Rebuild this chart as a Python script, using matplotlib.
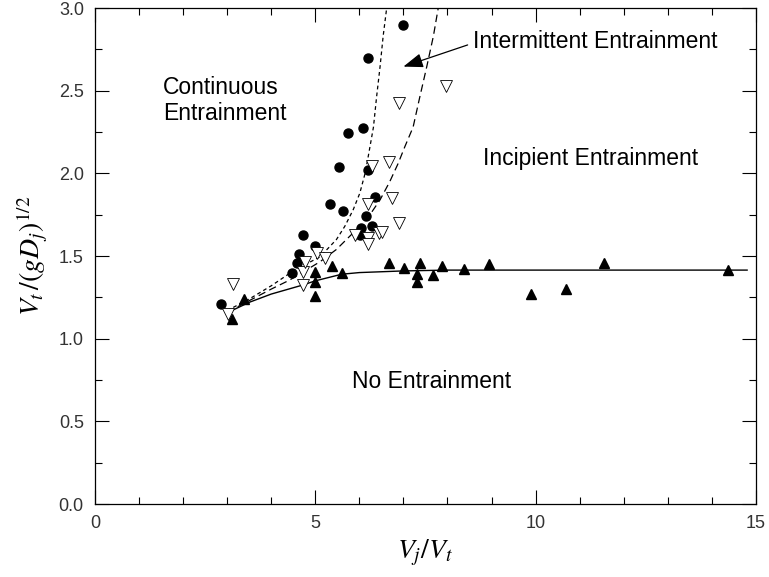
import numpy as np
import matplotlib.pyplot as plt
from matplotlib.ticker import MultipleLocator

plt.rcParams["font.family"] = ["Liberation Sans", "DejaVu Sans"]
plt.rcParams["mathtext.fontset"] = "stix"

# Continuous entrainment (filled circles)
cont_x = [2.87, 4.47, 4.58, 4.63, 4.73, 4.99, 5.34, 5.54, 5.63, 5.74, 6.01, 6.04,
          6.08, 6.15, 6.19, 6.20, 6.29, 6.35, 7.00]
cont_y = [1.21, 1.40, 1.46, 1.51, 1.63, 1.563, 1.813, 2.04, 1.77, 2.244, 1.627, 1.67,
          2.275, 1.74, 2.02, 2.70, 1.68, 1.86, 2.896]

# Incipient entrainment (open down-triangles)
incip_x = [3.03, 3.14, 4.73, 4.73, 4.77, 5.03, 5.23, 5.91, 6.19, 6.19, 6.19, 6.29,
           6.45, 6.52, 6.68, 6.74, 6.90, 6.90, 7.96]
incip_y = [1.15, 1.33, 1.325, 1.405, 1.466, 1.52, 1.49, 1.627, 1.61, 1.575, 1.815, 2.047,
           1.64, 1.645, 2.067, 1.85, 1.70, 2.424, 2.53]

# No entrainment (filled up-triangles)
none_x = [3.12, 3.39, 4.99, 4.99, 4.99, 5.39, 5.61, 6.68, 7.01, 7.30, 7.30, 7.37,
          7.68, 7.88, 8.38, 8.94, 9.89, 10.69, 11.56, 14.37]
none_y = [1.12, 1.24, 1.405, 1.34, 1.26, 1.44, 1.395, 1.456, 1.43, 1.39, 1.345, 1.456,
          1.385, 1.44, 1.42, 1.45, 1.27, 1.30, 1.456, 1.416]

# Boundary curves
cont_bound_x = [3.0, 3.5, 4.0, 4.5, 5.11, 5.48, 5.67, 5.86, 6.01, 6.13, 6.20, 6.32,
                6.39, 6.47, 6.54, 6.62]
cont_bound_y = [1.17, 1.24, 1.32, 1.41, 1.496, 1.60, 1.68, 1.78, 1.88, 2.0, 2.10, 2.28,
                2.46, 2.646, 2.83, 3.0]

incip_bound_x = [3.0, 3.5, 4.0, 4.42, 5.11, 5.48, 6.01, 6.24, 6.47, 6.69, 6.88, 7.03,
                 7.22, 7.37, 7.53, 7.68, 7.79]
incip_bound_y = [1.16, 1.23, 1.30, 1.355, 1.466, 1.54, 1.68, 1.75, 1.84, 1.95, 2.06, 2.16,
                 2.28, 2.46, 2.646, 2.83, 3.0]

none_bound_x = [3.05, 3.5, 4.0, 4.72, 5.0, 5.6, 6.0, 7.0, 8.0, 10.0, 12.0, 14.8]
none_bound_y = [1.163, 1.22, 1.27, 1.325, 1.35, 1.39, 1.40, 1.41, 1.415, 1.415, 1.415, 1.415]

fig = plt.figure(figsize=(7.69, 5.77), dpi=100)
ax = fig.add_axes([0.1235, 0.1265, 0.8595, 0.8595])

ax.plot(cont_bound_x, cont_bound_y, color="black", lw=0.9, dashes=(3, 2.5))
ax.plot(incip_bound_x, incip_bound_y, color="black", lw=0.9, dashes=(6, 3.5))
ax.plot(none_bound_x, none_bound_y, color="black", lw=1.0)

ax.plot(cont_x, cont_y, "o", color="black", ms=6.5, ls="none")
ax.plot(incip_x, incip_y, "v", mfc="white", mec="black", mew=0.6, ms=9, ls="none")
ax.plot(none_x, none_y, "^", color="black", ms=6.5, ls="none")

txt_kw = dict(fontsize=16.5, color="black")
ax.text(1.54, 2.44, "Continuous\nEntrainment", ha="left", va="center",
        linespacing=1.2, **txt_kw)
ax.text(8.8, 2.09, "Incipient Entrainment", ha="left", va="center", **txt_kw)
ax.text(5.83, 0.744, "No Entrainment", ha="left", va="center", **txt_kw)
ax.annotate("Intermittent Entrainment", xy=(7.0, 2.646), xytext=(8.58, 2.795),
            ha="left", va="center", **txt_kw,
            arrowprops=dict(arrowstyle="-|>,head_length=0.6,head_width=0.22",
                            color="black", lw=0.9, mutation_scale=20,
                            shrinkA=2, shrinkB=0, relpos=(0.0, 0.45)))

ax.set_xlim(0, 15)
ax.set_ylim(0, 3.0)
ax.xaxis.set_major_locator(MultipleLocator(5))
ax.xaxis.set_minor_locator(MultipleLocator(1))
ax.yaxis.set_major_locator(MultipleLocator(0.5))
ax.yaxis.set_minor_locator(MultipleLocator(0.25))
ax.set_yticklabels([f"{v:.1f}" for v in ax.get_yticks()])
ax.tick_params(which="both", direction="in", top=True, right=True,
               labelsize=13, labelcolor="#333333", width=0.8)
ax.tick_params(which="major", length=10, pad=8)
ax.tick_params(which="minor", length=5)
for sp in ax.spines.values():
    sp.set_linewidth(0.9)

ax.set_xlabel(r"$V_j/V_t$", fontsize=20, labelpad=4)
ax.set_ylabel(r"$V_t\,/(gD_j)^{1/2}$", fontsize=20, labelpad=6)

fig.savefig("out.png", dpi=100)
